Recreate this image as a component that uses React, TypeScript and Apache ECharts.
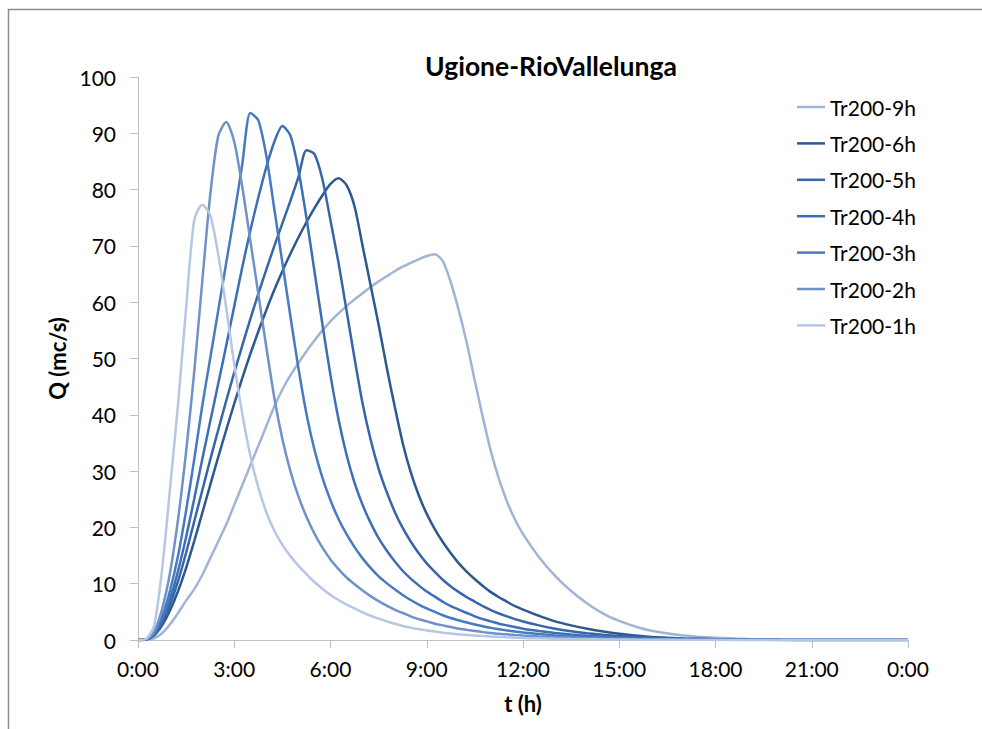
import React, { useEffect, useRef } from "react";
import * as echarts from "echarts";

const FONT = 'Lato, "Open Sans", sans-serif';

// time grid in hours
const times = [
  0, 0.25, 0.5, 0.75, 1, 1.25, 1.5, 1.75, 2, 2.25, 2.5, 2.75, 3, 3.25, 3.5, 3.75,
  4, 4.25, 4.5, 4.75, 5, 5.25, 5.5, 5.75, 6, 6.25, 6.5, 6.75, 7, 7.25, 7.5, 7.75,
  8, 8.25, 8.5, 8.75, 9, 9.25, 9.5, 9.75, 10, 10.25, 10.5, 10.75, 11, 11.25, 11.5, 11.75,
  12, 12.5, 13, 13.5, 14, 14.5, 15, 15.5, 16, 17, 18, 19, 20, 21, 22, 23, 24,
];

const seriesNames = ["Tr200-9h", "Tr200-6h", "Tr200-5h", "Tr200-4h", "Tr200-3h", "Tr200-2h", "Tr200-1h"];
const seriesColors = ["#a1b4d8", "#2d5890", "#3766a8", "#3c6fb5", "#467bc2", "#7092ca", "#b6c6e3"];

const q9h = [
  0, 0, 0.3, 1.2, 2.8, 4.8, 7, 9, 11.5, 14.5, 17.5, 20.5, 24, 27.5, 31, 34.5,
  38, 41.5, 44.5, 47, 49.2, 51.3, 53.2, 55, 56.6, 58, 59.3, 60.5, 61.6, 62.7, 63.7, 64.6,
  65.5, 66.3, 67, 67.6, 68.2, 68.5, 67.3, 63.5, 58.5, 52.7, 46, 39.5, 33.5, 28.6, 24.6, 21.4,
  18.8, 14.7, 11.4, 8.7, 6.5, 4.7, 3.4, 2.4, 1.65, 0.8, 0.38, 0.17, 0.08, 0.03, 0.01, 0, 0,
];
const q6h = [
  0, 0.1, 0.8, 2.6, 5.3, 8.7, 12.8, 17.5, 22.5, 27.5, 32.5, 37.3, 42, 46.5, 50.8, 54.8,
  58.6, 62.2, 65.5, 68.6, 71.5, 74.2, 76.7, 79, 81, 82, 80.8, 77, 70, 63, 56, 48.5,
  41.5, 35, 29.8, 25.7, 22.4, 19.7, 17.4, 15.4, 13.6, 12.1, 10.8, 9.6, 8.5, 7.6, 6.8, 6.0,
  5.4, 4.3, 3.3, 2.6, 2.0, 1.5, 1.1, 0.8, 0.55, 0.28, 0.14, 0.07, 0.03, 0.01, 0, 0, 0,
];
const q5h = [
  0, 0.1, 0.9, 3.0, 6.3, 10.5, 15.5, 21, 26.5, 32, 37.3, 42.5, 47.5, 52.3, 57, 61.5,
  65.8, 70, 74, 78, 82.2, 87, 86.3, 81.8, 74.5, 67, 58.5, 50, 42, 35.6, 30.4, 26.3,
  22.8, 19.9, 17.5, 15.4, 13.6, 12.1, 10.7, 9.5, 8.5, 7.6, 6.8, 6.0, 5.3, 4.7, 4.2, 3.7,
  3.3, 2.6, 2.0, 1.55, 1.2, 0.92, 0.7, 0.53, 0.4, 0.22, 0.12, 0.06, 0.03, 0.01, 0, 0, 0,
];
const q4h = [
  0, 0.1, 1.0, 3.5, 7.3, 12.3, 18.3, 25, 32, 38.8, 45.5, 52.3, 59.3, 66.2, 72.7, 78.6,
  84, 88.5, 91.3, 89.6, 83.5, 75, 65.5, 56, 47, 39.2, 32.9, 27.9, 24, 20.8, 18.1, 15.9,
  14, 12.3, 10.9, 9.7, 8.6, 7.7, 6.8, 6.0, 5.4, 4.8, 4.2, 3.7, 3.3, 2.9, 2.6, 2.3,
  2.0, 1.6, 1.25, 0.97, 0.75, 0.58, 0.45, 0.34, 0.26, 0.15, 0.08, 0.04, 0.02, 0.01, 0, 0, 0,
];
const q3h = [
  0, 0.1, 1.2, 4.2, 8.8, 15, 23, 32, 41.5, 50, 58.5, 67, 75.5, 84.5, 93.6, 92.3,
  86, 76.5, 67, 57.5, 48.3, 40.2, 33.8, 28.8, 24.8, 21.5, 18.8, 16.5, 14.5, 12.8, 11.3, 10.1,
  9.0, 8.0, 7.1, 6.3, 5.6, 5.0, 4.4, 3.9, 3.5, 3.1, 2.75, 2.45, 2.15, 1.9, 1.7, 1.5,
  1.33, 1.05, 0.82, 0.64, 0.5, 0.38, 0.29, 0.22, 0.17, 0.09, 0.05, 0.02, 0.01, 0, 0, 0, 0,
];
const q2h = [
  0, 0.1, 1.5, 5.5, 12, 21.5, 33.5, 47.5, 63.5, 79, 89.5, 92, 88.5, 80.5, 71, 61.5,
  52, 43, 35.7, 30, 25.5, 21.9, 18.9, 16.4, 14.3, 12.6, 11.1, 9.9, 8.8, 7.8, 6.9, 6.1,
  5.4, 4.8, 4.2, 3.7, 3.3, 2.9, 2.6, 2.3, 2.0, 1.8, 1.6, 1.4, 1.25, 1.1, 1.0, 0.88,
  0.78, 0.62, 0.48, 0.38, 0.3, 0.23, 0.18, 0.14, 0.1, 0.05, 0.03, 0.01, 0, 0, 0, 0, 0,
];
const q1h = [
  0, 0.2, 2.5, 12.5, 27, 42, 59, 74.5, 77.3, 75.5, 68.5, 59, 49, 40.2, 32.8, 27.1,
  22.7, 19.4, 16.9, 14.9, 13.2, 11.7, 10.3, 9.1, 8.0, 7.1, 6.3, 5.6, 4.9, 4.3, 3.8, 3.3,
  2.9, 2.5, 2.2, 1.9, 1.7, 1.5, 1.3, 1.15, 1.0, 0.9, 0.8, 0.7, 0.62, 0.55, 0.48, 0.42,
  0.37, 0.29, 0.22, 0.17, 0.13, 0.1, 0.08, 0.06, 0.04, 0.02, 0.01, 0, 0, 0, 0, 0, 0,
];

const seriesValues = [q9h, q6h, q5h, q4h, q3h, q2h, q1h];

export default function App() {
  const ref = useRef<HTMLDivElement>(null);
  useEffect(() => {
    if (!ref.current) return;
    const chart = echarts.init(ref.current, null, { renderer: "svg" });
    chart.setOption({
      animation: false,
      backgroundColor: "#ffffff",
      textStyle: { fontFamily: FONT },
      title: {
        text: "Ugione-RioVallelunga",
        left: 551,
        top: 52,
        padding: 0,
        textAlign: "center",
        textStyle: { fontFamily: FONT, fontSize: 26.5, fontWeight: "bold", color: "#000" },
      },
      legend: {
        orient: "vertical",
        left: 797,
        top: 96,
        padding: 0,
        icon: "rect",
        itemWidth: 28,
        itemHeight: 2.5,
        itemGap: 14.4,
        data: seriesNames,
        textStyle: { fontFamily: FONT, fontSize: 21, color: "#000", lineHeight: 22 },
      },
      grid: { left: 138, right: 74, top: 77, bottom: 89, containLabel: false },
      xAxis: {
        type: "value",
        min: 0,
        max: 24,
        interval: 3,
        name: "t (h)",
        nameLocation: "middle",
        nameGap: 52,
        nameTextStyle: { fontFamily: FONT, fontSize: 22, fontWeight: "bold", color: "#000" },
        axisLine: { show: true, lineStyle: { color: "#bfbfbf", width: 1 } },
        axisTick: { show: true, inside: false, length: 8, lineStyle: { color: "#bfbfbf" } },
        splitLine: { show: false },
        axisLabel: {
          margin: 18,
          fontFamily: FONT,
          fontSize: 21,
          color: "#000",
          formatter: (v: number) => `${v % 24}:00`,
        },
      },
      yAxis: {
        type: "value",
        min: 0,
        max: 100,
        interval: 10,
        name: "Q (mc/s)",
        nameLocation: "middle",
        nameGap: 66,
        nameRotate: 90,
        nameTextStyle: { fontFamily: FONT, fontSize: 22, fontWeight: "bold", color: "#000" },
        axisLine: { show: true, lineStyle: { color: "#bfbfbf", width: 1 } },
        axisTick: { show: true, inside: false, length: 8, lineStyle: { color: "#bfbfbf" } },
        splitLine: { show: false },
        axisLabel: { margin: 22, fontFamily: FONT, fontSize: 21, color: "#000" },
      },
      graphic: [
        {
          type: "polyline",
          silent: true,
          z: -10,
          shape: { points: [[8.5, 729], [8.5, 9.5], [982, 9.5]] },
          style: { fill: "none", stroke: "#8c8c8c", lineWidth: 1.5 },
        },
      ],
      series: seriesNames.map((name, k) => ({
        name,
        type: "line",
        symbol: "none",
        showSymbol: false,
        smooth: 0.25,
        data: times.map((t, i) => [t, seriesValues[k][i]]),
        lineStyle: { width: 2.5, color: seriesColors[k] },
        itemStyle: { color: seriesColors[k] },
        emphasis: { disabled: true },
      })),
    });
    return () => chart.dispose();
  }, []);
  return (
    <div
      ref={ref}
      style={{ position: "absolute", left: 0, top: 0, width: 982, height: 729 }}
    />
  );
}
